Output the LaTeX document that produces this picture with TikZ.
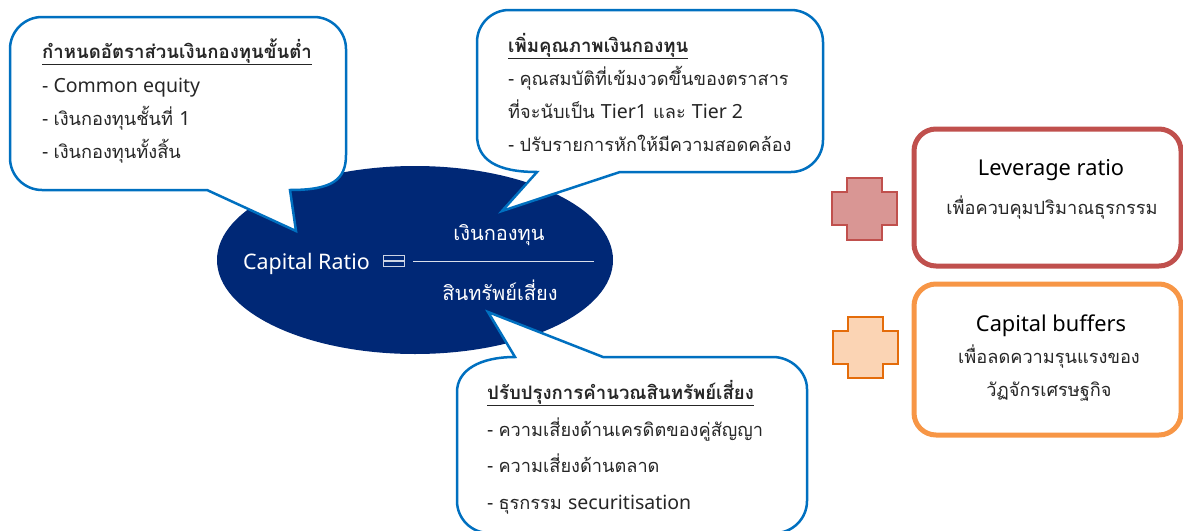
\documentclass[tikz,border=0pt]{standalone}
\usepackage{fontspec}
\newfontfamily\thai[Script=Thai]{Loma}
\newfontfamily\latf{Noto Sans}
\newcommand{\la}[1]{{\latf\fontsize{19.5}{22}\selectfont #1}}
\definecolor{navy}{RGB}{0,40,118}
\definecolor{cblue}{RGB}{0,112,192}
\definecolor{redb}{RGB}{192,80,77}
\definecolor{redf}{RGB}{217,150,148}
\definecolor{orb}{RGB}{247,150,70}
\definecolor{orx}{RGB}{228,108,10}
\definecolor{orf}{RGB}{251,212,180}
\tikzset{
  bubble/.style={draw=cblue,line width=2.5pt,fill=white,line join=miter,miter limit=20},
  txt/.style={anchor=base west,inner sep=0pt,font=\thai\fontsize{18.2}{22}\selectfont,text=black!85},
  ttl/.style={txt,font=\thai\bfseries\fontsize{18.6}{22}\selectfont},
  ctr/.style={anchor=base,inner sep=0pt,font=\thai\fontsize{18.2}{22}\selectfont,text=black!85},
  big/.style={ctr,font=\latf\fontsize{21.8}{24}\selectfont,text=black},
  wt/.style={anchor=base,inner sep=0pt,font=\thai\fontsize{20}{24}\selectfont,text=white},
}
\begin{document}
\begin{tikzpicture}[x=1pt,y=-1pt]
\useasboundingbox (0,0) rectangle (1183,530);
% central ellipse
\fill[navy] (415,260) ellipse [x radius=198, y radius=94];
\node[wt,anchor=base west,font=\latf\fontsize{21.4}{24}\selectfont] (cr) at (243,269) {Capital Ratio};
\draw[white!80!navy,line width=1.2pt] (383.5,255.5) rectangle (404.5,266.5) (383.5,261) -- (404.5,261);
\coordinate (fl) at (413,261);
\coordinate (fr) at (594,261);
\draw[white!85!navy,line width=1pt] (fl) -- (fr);
\node[wt] (num) at (499,240) {เงินกองทุน};
\node[wt] (den) at (500,300) {สินทรัพย์เสี่ยง};

% callout 1
\path[bubble] (178,17) -- (314,17) .. controls (331.6,17) and (346,31.4) .. (346,49) -- (346,155)
  .. controls (346,180) and (332,190) .. (290,190) -- (296,231) -- (207,190) -- (42,190)
  .. controls (24.4,190) and (10,175.6) .. (10,158) -- (10,49) .. controls (10,31.4) and (24.4,17) .. (42,17) -- cycle;
\node[ttl] (h1) at (42,58) {\underline{กำหนดอัตราส่วนเงินกองทุนขั้นต่ำ}};
\node[txt] (a1) at (42,92) {\la{- Common equity}};
\node[txt] (a2) at (42,125) {\la{- }เงินกองทุนชั้นที่ \la{1}};
\node[txt] (a3) at (42,158) {\la{- }เงินกองทุนทั้งสิ้น};

% callout 2
\path[bubble] (650,10) -- (791,10) .. controls (808.6,10) and (823,24.4) .. (823,42) -- (823,140)
  .. controls (823,157.6) and (808.6,172) .. (791,172) -- (620,172) -- (502,211) -- (537,172)
  .. controls (497,172) and (477,160) .. (477,135) -- (477,42) .. controls (477,24.4) and (491.4,10) .. (509,10) -- cycle;
\node[ttl] (h2) at (508,52) {\underline{เพิ่มคุณภาพเงินกองทุน}};
\node[txt] (b1) at (508,85) {\la{- }คุณสมบัติที่เข้มงวดขึ้นของตราสาร};
\node[txt] (b2) at (508,118) {ที่จะนับเป็น \la{Tier1} และ \la{Tier 2}};
\node[txt] (b3) at (508,151) {\la{- }ปรับรายการหักให้มีความสอดคล้อง};

% callout 3
\path[bubble] (807,450) -- (807,501) .. controls (807,518.6) and (792.6,533) .. (775,533) -- (489,533)
  .. controls (471.4,533) and (457,518.6) .. (457,501) -- (457,392) .. controls (457,370) and (480,357) .. (515,357)
  -- (488,312) -- (603,357) -- (773,357) .. controls (790.6,357) and (807,371.4) .. (807,389) -- cycle;
\node[ttl] (h3) at (487,399) {\underline{ปรับปรุงการคำนวณสินทรัพย์เสี่ยง}};
\node[txt] (c1) at (487,436) {\la{- }ความเสี่ยงด้านเครดิตของคู่สัญญา};
\node[txt] (c2) at (487,472) {\la{- }ความเสี่ยงด้านตลาด};
\node[txt] (c3) at (487,509) {\la{- }ธุรกรรม \la{securitisation}};

% red cross and box
\draw[redb,fill=redf,line width=1.5pt] (847,178) -- (882,178) -- (882,192) -- (897,192) -- (897,225) -- (882,225) -- (882,240) -- (847,240) -- (847,225) -- (832,225) -- (832,192) -- (847,192) -- cycle;
\draw[redb,line width=5pt,rounded corners=22pt,fill=white] (914,129) rectangle (1181,266);
\node[big] (lr) at (1051,175) {Leverage ratio};
\node[ctr] (lrt) at (1052,214) {เพื่อควบคุมปริมาณธุรกรรม};

% orange cross and box
\draw[orx,fill=orf,line width=1.5pt] (848,317) -- (883,317) -- (883,331) -- (898,331) -- (898,364) -- (883,364) -- (883,378) -- (848,378) -- (848,364) -- (833,364) -- (833,331) -- (848,331) -- cycle;
\draw[orb,line width=5pt,rounded corners=22pt,fill=white] (914,284) rectangle (1181,435);
\node[big] (cb) at (1051,331) {Capital buffers};
\node[ctr] (cb1) at (1049,363) {เพื่อลดความรุนแรงของ};
\node[ctr] (cb2) at (1049,396) {วัฏจักรเศรษฐกิจ};
\end{tikzpicture}
\end{document}
